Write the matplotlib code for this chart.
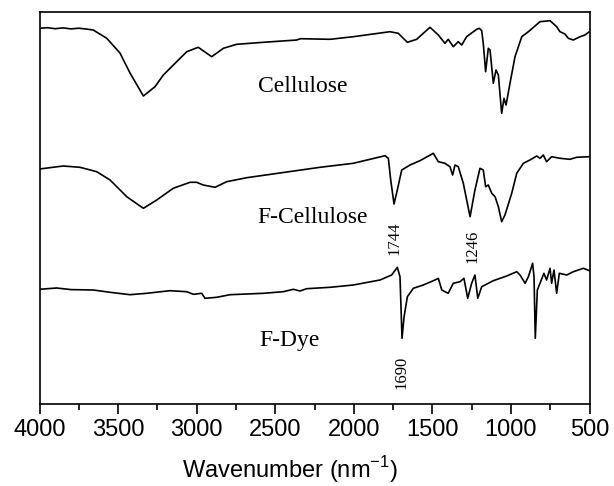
import numpy as np
import matplotlib
matplotlib.use("Agg")
import matplotlib.pyplot as plt
from matplotlib.ticker import MultipleLocator

# FTIR spectra, values in arbitrary transmittance units
cellulose_wn = [4000, 3950, 3900, 3850, 3800, 3750, 3700, 3658, 3572, 3488,
                3424, 3339, 3265, 3212, 3127, 3063, 2990, 2904, 2830, 2745,
                2576, 2363, 2340, 2151, 2003, 1770, 1717, 1659, 1600, 1515,
                1462, 1420, 1399, 1367, 1335, 1313, 1282, 1218, 1201, 1186,
                1176, 1161, 1144, 1133, 1112, 1095, 1080, 1059, 1044, 1031,
                1006, 974, 931, 889, 815, 751, 709, 688, 656, 635,
                603, 560, 529, 501]
cellulose_t = [375.2, 375.8, 374.8, 375.6, 374.6, 375.3, 374.4, 373.5, 365.2, 350.5,
               330.5, 307.5, 316.8, 328.5, 341.8, 351.8, 356.2, 346.8, 355.2, 359.2,
               361.2, 363.5, 364.8, 364.2, 366.8, 371.8, 370.2, 361.2, 364.2, 376.2,
               368.5, 360.2, 364.2, 356.8, 361.8, 358.5, 366.8, 374.2, 375.2, 372.8,
               360.2, 331.8, 355.2, 353.5, 320.2, 333.5, 328.5, 290.2, 305.2, 298.5,
               320.2, 346.8, 366.8, 371.8, 381.8, 382.8, 376.8, 371.8, 369.5, 365.2,
               363.5, 366.8, 368.5, 371.8]

fcell_wn = [4000, 3849, 3742, 3636, 3551, 3445, 3339, 3254, 3149, 3042,
            3000, 2958, 2883, 2809, 2681, 2215, 2003, 1801, 1780, 1765,
            1744, 1723, 1695, 1642, 1579, 1494, 1462, 1420, 1388, 1371,
            1356, 1335, 1303, 1260, 1229, 1197, 1176, 1161, 1144, 1122,
            1101, 1080, 1059, 1038, 995, 963, 921, 879, 836, 815,
            794, 773, 741, 688, 624, 582, 500]
fcell_t = [234.5, 237.5, 236.2, 231.8, 223.5, 206.8, 195.2, 203.5, 215.2, 221.2,
           221.2, 218.5, 216.2, 221.8, 225.8, 236.2, 240.2, 247.8, 245.2, 223.5,
           199.5, 213.5, 233.5, 238.5, 242.8, 250.2, 241.8, 240.2, 236.8, 228.5,
           238.5, 236.8, 220.2, 186.8, 213.5, 235.2, 233.5, 216.8, 218.5, 210.2,
           206.8, 196.8, 181.8, 188.5, 210.2, 230.2, 240.2, 243.5, 247.5, 245.2,
           248.5, 241.8, 246.8, 245.2, 244.2, 246.2, 246.8]

fdye_wn = [4000, 3891, 3800, 3658, 3551, 3424, 3318, 3170, 3063, 3021,
           2968, 2947, 2872, 2788, 2576, 2449, 2385, 2342, 2300, 2151,
           2003, 1833, 1759, 1723, 1706, 1693, 1680, 1659, 1621, 1558,
           1483, 1462, 1440, 1420, 1399, 1367, 1324, 1299, 1275, 1250,
           1229, 1211, 1186, 1112, 1027, 963, 942, 910, 889, 862,
           853, 845, 832, 815, 790, 773, 751, 741, 726, 709,
           692, 645, 603, 539, 500]
fdye_t = [114.2, 115.5, 113.9, 113.5, 111.2, 108.8, 110.2, 112.8, 111.8, 109.2,
          110.2, 105.2, 106.2, 108.8, 110.2, 111.8, 114.2, 112.5, 114.8, 116.2,
          118.5, 123.5, 128.5, 136.2, 126.8, 65.2, 86.8, 106.8, 115.2, 118.5,
          123.5, 125.2, 113.5, 111.8, 110.2, 120.2, 121.8, 125.2, 105.2, 120.2,
          128.5, 105.2, 116.8, 122.8, 127.5, 131.8, 128.5, 120.2, 126.8, 140.2,
          126.8, 65.2, 113.5, 120.2, 130.2, 123.5, 135.2, 120.2, 133.5, 110.2,
          130.2, 128.5, 131.8, 135.2, 132.8]

names = ["Cellulose", "F-Cellulose", "F-Dye"]
name_pos = [(2323, 316.8), (2260, 186.5), (2406, 63.5)]

peak_labels = ["1744", "1246", "1690"]
peak_pos = [(1738, 165.2), (1243, 157.2), (1695, 31.5)]

plt.rcParams["font.family"] = ["Liberation Sans", "DejaVu Sans"]

fig = plt.figure(figsize=(6.14, 4.86), dpi=100)
ax = fig.add_axes([39.5 / 614, 1 - 403.5 / 486, 550 / 614, 391.5 / 486])

for wn, t in [(cellulose_wn, cellulose_t), (fcell_wn, fcell_t), (fdye_wn, fdye_t)]:
    ax.plot(wn, t, color="black", lw=1.2)

for name, (x, y) in zip(names, name_pos):
    ax.text(x, y, name, family="Liberation Serif", fontsize=17,
            ha="center", va="center")

for lab, (x, y) in zip(peak_labels, peak_pos):
    ax.text(x, y, lab, family="Liberation Serif", fontsize=12,
            rotation=90, ha="center", va="center")

ax.set_xlim(4000, 500)
ax.set_ylim(0, 391.5)
ax.xaxis.set_major_locator(MultipleLocator(500))
ax.xaxis.set_minor_locator(MultipleLocator(250))
ax.tick_params(axis="x", which="major", direction="out", length=7, width=1.2,
               labelsize=17, pad=4)
ax.tick_params(axis="x", which="minor", direction="out", length=4, width=1.2)
ax.set_yticks([])
for sp in ax.spines.values():
    sp.set_linewidth(1.2)

fig.text(290 / 614, 1 - 470 / 486, r"Wavenumber (nm$^{\mathregular{-1}}$)",
         fontsize=17, ha="center", va="center")

fig.savefig("out.png", dpi=100)
